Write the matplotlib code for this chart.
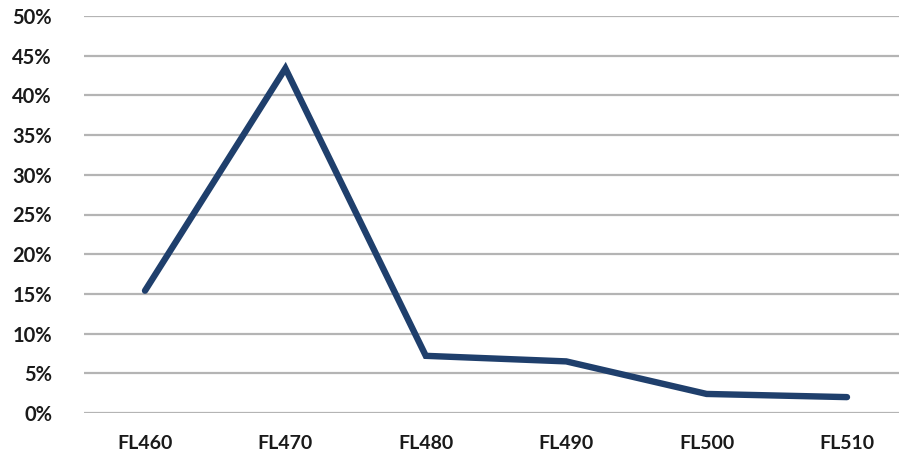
import matplotlib.pyplot as plt
from matplotlib.ticker import FuncFormatter

# values
levels = ["FL460", "FL470", "FL480", "FL490", "FL500", "FL510"]
share = [15.4, 43.4, 7.2, 6.5, 2.4, 2.0]
yticks = [0, 5, 10, 15, 20, 25, 30, 35, 40, 45, 50]

plt.rcParams['font.family'] = ['Lato', 'DejaVu Sans']

fig = plt.figure(figsize=(8.99, 4.53), dpi=100)
ax = fig.add_axes([84/899, 1-413/453, 815/899, 397/453])

x = list(range(len(levels)))
ax.plot(x, share, color='#1f3f6c', lw=4.6, solid_capstyle='round', solid_joinstyle='miter', zorder=3)

ax.set_ylim(0, 50)
ax.set_xlim((84-145)/140.4, (899-145)/140.4)
ax.set_yticks(yticks)
ax.yaxis.set_major_formatter(FuncFormatter(lambda v, p: f"{v:.0f}%"))
ax.set_xticks(x)
ax.set_xticklabels(levels)
ax.grid(axis='y', color='#b4b4b4', lw=1.6)
ax.set_axisbelow(True)
for s in ax.spines.values():
    s.set_visible(False)
ax.tick_params(axis='y', length=0, pad=23, labelsize=14.5, labelcolor='#1a1a1a')
ax.tick_params(axis='x', length=0, pad=16, labelsize=14, labelcolor='#1a1a1a')
for t in ax.get_xticklabels() + ax.get_yticklabels():
    t.set_fontweight('bold')

fig.savefig("out.png", dpi=100)
